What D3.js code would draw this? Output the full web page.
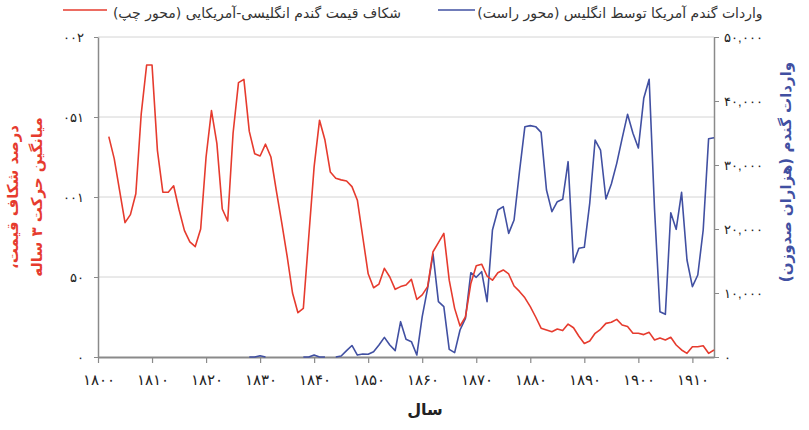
<!DOCTYPE html>
<html>
<head>
<meta charset="utf-8">
<script src="https://cdn.jsdelivr.net/npm/d3@7"></script>
<style>
  body { margin: 0; background: #fff; }
  svg { display: block; font-family: "DejaVu Sans", sans-serif; }
</style>
</head>
<body>
<div id="chart"></div>
<script>
// شکاف قیمت گندم (محور چپ)
const gapYears = d3.range(1802, 1915);
const gapValues = [
  137.7, 124, 104, 84, 89, 102, 152, 182.5, 182.5, 129,
  103, 103, 107, 92, 79, 72, 69, 80, 125, 154,
  133.5, 92.5, 85, 140, 171.5, 173.5, 141, 127, 125.6, 133,
  125, 104, 84, 63, 40, 27.7, 30.4, 75, 119, 148,
  135.6, 115.6, 111.7, 110.7, 110, 106.5, 98, 75, 52, 43.3,
  45.6, 55.4, 50, 42.3, 44, 45, 48.5, 36, 38.8, 44,
  65.8, 71.5, 77.3, 48, 30.4, 19.4, 25, 46, 57, 58,
  50.6, 48, 52.7, 54.4, 51.9, 44.4, 41, 37, 31.5, 25,
  18, 16.9, 15.8, 17.5, 16.5, 20.6, 18.3, 13, 8.5, 10,
  14.8, 17.3, 21, 21.7, 23.5, 20, 19, 14.8, 14.8, 14,
  15.4, 10.6, 11.9, 10.6, 12.3, 7.5, 4.4, 2.3, 6.4, 6.4,
  7, 2.3, 4.4
];

// واردات گندم (محور راست)، null = بدون داده
const importYears = d3.range(1828, 1915);
const importValues = [
  0, 0, 200, 0, null, null, null, null, null, null,
  0, 0, 300, 0, 0, null, 0, 150, 1000, 1800,
  300, 470, 420, 830, 1875, 3070, 1875, 990, 5520, 2760,
  2400, 310, 6300, 10730, 16100, 8650, 7860, 1200, 680, 4220,
  6040, 13170, 12450, 13330, 8650, 19840, 22970, 23490, 19320, 21410,
  28960, 35990, 36150, 35990, 35100, 26090, 22710, 24270, 24640, 30520,
  14740, 16980, 17140, 24010, 33900, 32340, 24690, 27030, 30260, 34170,
  37920, 34950, 32650, 40420, 43390, 23000, 7080, 6670, 22550, 19950,
  25730, 15160, 10990, 12810, 19840, 34110, 34270
];

const xTicks = d3.range(1800, 1911, 10);
const xTickLabels = ['۱۸۰۰', '۱۸۱۰', '۱۸۲۰', '۱۸۳۰', '۱۸۴۰', '۱۸۵۰',
  '۱۸۶۰', '۱۸۷۰', '۱۸۸۰', '۱۸۹۰', '۱۹۰۰', '۱۹۱۰'];
const leftTicks = [0, 50, 100, 150, 200];
const leftTickLabels = ['۰', '۵۰', '۰۰۱', '۰۵۱', '۰۰۲'];
const rightTicks = [0, 10000, 20000, 30000, 40000, 50000];
const rightTickLabels = ['۰', '۱۰,۰۰۰', '۲۰,۰۰۰', '۳۰,۰۰۰', '۴۰,۰۰۰', '۵۰,۰۰۰'];

const RED = '#e63b2e';
const BLUE = '#4150a2';

const W = 809, H = 430;
const margin = { top: 37, right: 95, bottom: 73, left: 98 };
const innerW = W - margin.left - margin.right;
const innerH = H - margin.top - margin.bottom;

const svg = d3.select('#chart').append('svg')
  .attr('width', W).attr('height', H);

const g = svg.append('g')
  .attr('transform', `translate(${margin.left},${margin.top})`);

// مقیاس‌ها
const x = d3.scaleLinear().domain([1800, 1914]).range([0, innerW]);
const yL = d3.scaleLinear().domain([0, 200]).range([innerH, 0]);
const yR = d3.scaleLinear().domain([0, 50000]).range([innerH, 0]);

// خطوط شبکه
g.append('g')
  .selectAll('line')
  .data(leftTicks.filter(d => d > 0))
  .join('line')
  .attr('x1', 0).attr('x2', innerW)
  .attr('y1', d => yL(d)).attr('y2', d => yL(d))
  .attr('stroke', '#d4d4d4').attr('stroke-width', 1);

// محور پایین
const xAxis = g.append('g')
  .attr('transform', `translate(0,${innerH})`)
  .call(d3.axisBottom(x).tickValues(xTicks)
    .tickFormat((d, i) => xTickLabels[i]).tickSize(6).tickSizeOuter(0));
xAxis.select('.domain').attr('stroke', '#8a8a8a').attr('stroke-width', 2);
xAxis.selectAll('.tick line').attr('stroke', '#8a8a8a').attr('stroke-width', 1.2);
xAxis.selectAll('.tick text')
  .attr('font-size', '15px').attr('fill', '#222').attr('dy', '1.25em');

// محور چپ
const leftAxis = g.append('g')
  .call(d3.axisLeft(yL).tickValues(leftTicks)
    .tickFormat((d, i) => leftTickLabels[i]).tickSize(4).tickSizeOuter(0));
leftAxis.select('.domain').attr('stroke', '#8a8a8a').attr('stroke-width', 1.5);
leftAxis.selectAll('.tick line').attr('stroke', '#8a8a8a');
leftAxis.selectAll('.tick text')
  .attr('font-size', '13px').attr('fill', '#222').attr('x', -14);

// محور راست
const rightAxis = g.append('g')
  .attr('transform', `translate(${innerW},0)`)
  .call(d3.axisRight(yR).tickValues(rightTicks)
    .tickFormat((d, i) => rightTickLabels[i]).tickSize(5).tickSizeOuter(0));
rightAxis.select('.domain').attr('stroke', '#8a8a8a').attr('stroke-width', 1.5);
rightAxis.selectAll('.tick line').attr('stroke', '#8a8a8a');
rightAxis.selectAll('.tick text')
  .attr('font-size', '13px').attr('fill', '#222').attr('x', 10);

// خط واردات
const importData = importYears.map((yr, i) => ({ year: yr, value: importValues[i] }));
g.append('path')
  .datum(importData)
  .attr('fill', 'none')
  .attr('stroke', BLUE)
  .attr('stroke-width', 1.6)
  .attr('stroke-linejoin', 'round')
  .attr('d', d3.line()
    .defined(d => d.value != null)
    .x(d => x(d.year))
    .y(d => yR(d.value)));

// خط شکاف قیمت
const gapData = gapYears.map((yr, i) => ({ year: yr, value: gapValues[i] }));
g.append('path')
  .datum(gapData)
  .attr('fill', 'none')
  .attr('stroke', RED)
  .attr('stroke-width', 1.6)
  .attr('stroke-linejoin', 'round')
  .attr('d', d3.line()
    .x(d => x(d.year))
    .y(d => yL(d.value)));

// عنوان محور x
svg.append('text')
  .attr('x', 425).attr('y', 415)
  .attr('text-anchor', 'middle')
  .attr('font-size', '16px').attr('font-weight', 'bold').attr('fill', '#222')
  .attr('direction', 'rtl')
  .text('سال');

// عنوان محور چپ
const leftTitle = svg.append('text')
  .attr('transform', `translate(0,${margin.top + innerH / 2}) rotate(-90)`)
  .attr('text-anchor', 'middle')
  .attr('direction', 'rtl')
  .attr('font-size', '15px').attr('font-weight', 'bold').attr('fill', RED);
leftTitle.append('tspan').attr('x', 0).attr('y', 18).text('درصد شکاف قیمت،');
leftTitle.append('tspan').attr('x', 0).attr('y', 42).text('میانگین حرکت ۳ ساله');

// عنوان محور راست
svg.append('text')
  .attr('transform', 'translate(791,172) rotate(-90)')
  .attr('text-anchor', 'middle')
  .attr('direction', 'rtl')
  .attr('font-size', '15px').attr('font-weight', 'bold').attr('fill', BLUE)
  .text('واردات گندم (هزاران صدوزن)');

// راهنما
const legendItems = [
  { label: 'شکاف قیمت گندم انگلیسی-آمریکایی (محور چپ)', color: RED, x1: 63, x2: 107, tx: 257 },
  { label: 'واردات گندم آمریکا توسط انگلیس (محور راست)', color: BLUE, x1: 438, x2: 475, tx: 620 }
];
const legend = svg.append('g');
legendItems.forEach(item => {
  legend.append('line')
    .attr('x1', item.x1).attr('x2', item.x2)
    .attr('y1', 10).attr('y2', 10)
    .attr('stroke', item.color).attr('stroke-width', 1.6);
  legend.append('text')
    .attr('x', item.tx).attr('y', 18)
    .attr('text-anchor', 'middle')
    .attr('direction', 'rtl')
    .attr('font-size', '14px').attr('fill', '#333')
    .text(item.label);
});
</script>
</body>
</html>
